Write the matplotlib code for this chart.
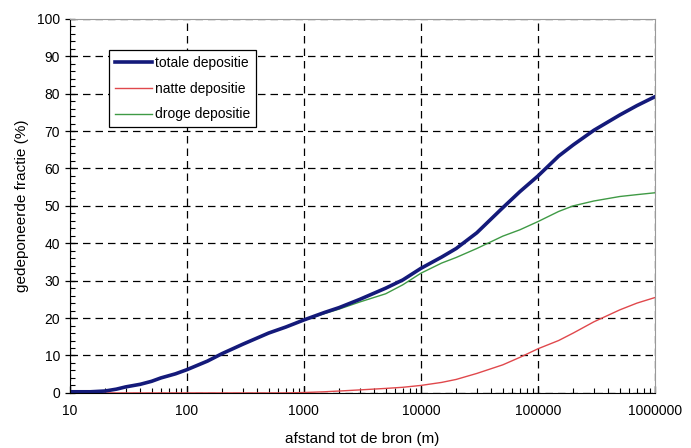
import numpy as np
import matplotlib.pyplot as plt
from matplotlib.ticker import FixedLocator, MultipleLocator, LogLocator, NullFormatter

plt.rcParams['font.family'] = ['Liberation Sans', 'DejaVu Sans']

# values
afstand = [10, 15, 20, 25, 30, 40, 50, 60, 80, 100, 150, 200, 300, 500, 700,
           1000, 1500, 2000, 3000, 5000, 7000, 10000, 15000, 20000, 30000, 50000,
           70000, 100000, 150000, 200000, 300000, 500000, 700000, 1000000]
totaal = [0.3, 0.3, 0.5, 1.0, 1.6, 2.3, 3.1, 4.0, 5.1, 6.2, 8.5, 10.5, 13.0, 16.0, 17.6,
          19.5, 21.5, 22.8, 25.0, 28.0, 30.2, 33.3, 36.3, 38.6, 42.8, 49.5,
          53.8, 58.0, 63.3, 66.3, 70.2, 74.3, 76.8, 79.2]
nat = [0, 0, 0, 0, 0, 0, 0, 0, 0, 0, 0, 0, 0, 0, 0,
       0.1, 0.3, 0.5, 0.8, 1.2, 1.5, 2.0, 2.8, 3.6, 5.2, 7.5,
       9.5, 11.8, 14.0, 16.0, 19.0, 22.2, 24.0, 25.5]
droog = [0.3, 0.3, 0.5, 1.0, 1.6, 2.3, 3.1, 4.0, 5.1, 6.2, 8.5, 10.5, 13.0, 16.0, 17.6,
         19.4, 21.2, 22.4, 24.3, 26.5, 28.9, 32.0, 34.7, 36.2, 38.6, 41.9,
         43.6, 45.8, 48.5, 50.0, 51.3, 52.5, 53.0, 53.5]

fig = plt.figure(figsize=(6.91, 4.48), dpi=100)
ax = fig.add_axes([0.101, 0.123, 0.847, 0.835])

ax.plot(afstand, nat, color='#e0484c', lw=1.0, label='natte depositie')
ax.plot(afstand, droog, color='#3f9a45', lw=1.0, label='droge depositie')
ax.plot(afstand, totaal, color='#141a7a', lw=2.6, label='totale depositie')

ax.set_xscale('log')
ax.set_xlim(10, 1e6)
ax.set_ylim(0, 100)
ax.xaxis.set_major_locator(FixedLocator([10, 100, 1000, 10000, 100000, 1000000]))
ax.set_xticklabels(['10', '100', '1000', '10000', '100000', '1000000'])
ax.xaxis.set_minor_locator(LogLocator(base=10, subs=np.arange(2, 10)))
ax.xaxis.set_minor_formatter(NullFormatter())
ax.yaxis.set_major_locator(MultipleLocator(10))
ax.yaxis.set_minor_locator(MultipleLocator(2))

ax.grid(True, which='major', color='black', linestyle=(0, (6, 4)), lw=0.9)
ax.tick_params(which='major', direction='inout', length=7, width=0.9, labelsize=10, colors='black')
ax.tick_params(which='minor', direction='in', length=3.5, width=0.8)
ax.tick_params(axis='x', which='major', direction='in', length=5, pad=8)
for s in ['top', 'right']:
    ax.spines[s].set_color('#999999')
for s in ['left', 'bottom']:
    ax.spines[s].set_color('black')

ax.set_xlabel('afstand tot de bron (m)', fontsize=11, labelpad=10)
ax.set_ylabel('gedeponeerde fractie (%)', fontsize=11, labelpad=6)

h, l = ax.get_legend_handles_labels()
order = [2, 0, 1]
leg = ax.legend([h[i] for i in order], [l[i] for i in order], loc='upper left',
                bbox_to_anchor=(0.067, 0.916), borderaxespad=0, fontsize=10,
                fancybox=False, framealpha=1, edgecolor='black', borderpad=0.4,
                handlelength=2.7, handletextpad=0.2, labelspacing=0.85)
leg.get_frame().set_linewidth(0.9)

fig.savefig('out.png', dpi=100)
